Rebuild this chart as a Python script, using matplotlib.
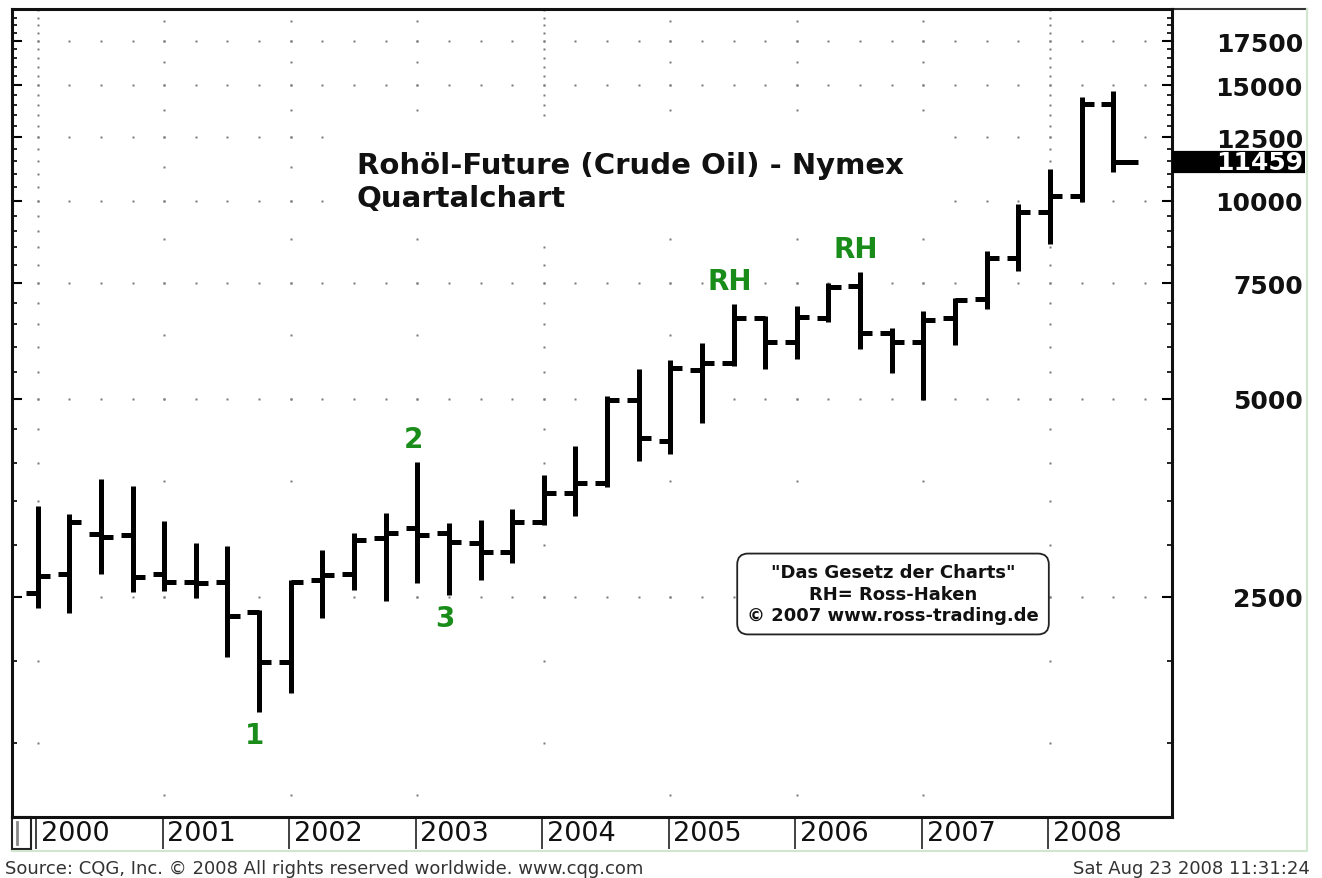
"""Quarterly OHLC bar chart of the Nymex crude oil future (CQG style, log scale)."""

import matplotlib
matplotlib.use("Agg")
import matplotlib.pyplot as plt
import numpy as np
from matplotlib.ticker import FixedLocator, NullFormatter

W, H = 1322, 879

# one bar per quarter, 2000Q1 .. 2008Q3 (prices in US cents per barrel)
quarters = [f"{y}Q{q}" for y in range(2000, 2009) for q in range(1, 5)][:35]
opens = [2536, 2710, 3117, 3109, 2710, 2632, 2632, 2375, 1990, 2650,
         2710, 3071, 3180, 3128, 3020, 2930, 3254, 3598, 3727, 4988,
         4321, 5540, 5672, 6632, 6104, 6632, 7418, 6300, 6111, 6632,
         7095, 8182, 9632, 10187, 14041]
highs = [3442, 3344, 3779, 3691, 3265, 3020, 2986, 2392, 2657, 2951,
         3128, 3355, 4007, 3239, 3277, 3403, 3832, 4237, 5048, 5553,
         5738, 6083, 6973, 6679, 6924, 7504, 7791, 6404, 6810, 7113,
         8393, 9894, 11183, 14374, 14709]
lows = [2403, 2364, 2710, 2547, 2556, 2491, 2025, 1673, 1787, 2322,
        2565, 2468, 2623, 2520, 2654, 2816, 3217, 3316, 3671, 4029,
        4124, 4597, 5607, 5553, 5746, 6540, 5956, 5476, 4988, 6040,
        6851, 7833, 8601, 9949, 11078]
closes = [2693, 3254, 3088, 2684, 2632, 2625, 2342, 1990, 2638, 2700,
          3056, 3128, 3107, 3034, 2930, 3254, 3598, 3727, 4988, 4358,
          5567, 5672, 6632, 6111, 6669, 7392, 6293, 6111, 6600, 7071,
          8182, 9632, 10187, 14041, 11459]
years = ["2000", "2001", "2002", "2003", "2004", "2005", "2006", "2007", "2008"]
price_labels = [2500, 5000, 7500, 10000, 12500, 15000, 17500]
last_price = 11459

# wave / Ross hook marks: (text, bar index, placed above the high or below the low)
marks = [("1", 7, "low"), ("2", 12, "high"), ("3", 13, "low"),
         ("RH", 22, "high"), ("RH", 26, "high")]

GREEN = "#1a8c1a"


def px_rect(x0, y0, x1, y1):
    return [x0 / W, 1 - y1 / H, (x1 - x0) / W, (y1 - y0) / H]


fig = plt.figure(figsize=(W / 100, H / 100), dpi=100)
fig.patch.set_facecolor("white")
ax = fig.add_axes(px_rect(12, 10, 1172, 818))
ax.set_yscale("log")
ax.set_xlim(-0.8125, 35.86)
ax.set_ylim(1157, 19580)

x = np.arange(len(quarters))
o = np.asarray(opens, float)
h = np.asarray(highs, float)
lo = np.asarray(lows, float)
c = np.asarray(closes, float)

# dotted grid: major price rows with a dot per quarter, year columns
qx = np.arange(36)
for lvl in price_labels:
    ax.plot(qx, np.full(qx.size, lvl), ls="none", marker="s", ms=1.5,
            mec="none", mfc="#7a7a7a", zorder=1)
year_idx = np.arange(0, 36, 4)
for k, yi in enumerate(year_idx):
    if k % 4 == 0:
        lv = np.arange(1500, 20000, 500)
    else:
        lv = np.arange(1250, 20000, 1250)
    ax.plot(np.full(lv.size, yi), lv, ls="none", marker="s", ms=1.5,
            mec="none", mfc="#7a7a7a", zorder=1)

# OHLC bars
bw = 3.6
ax.vlines(x, lo, h, colors="black", linewidth=bw, capstyle="butt", zorder=3)
ax.hlines(o, x - 0.37, x, colors="black", linewidth=bw, capstyle="butt", zorder=3)
close_len = np.full(x.size, 0.38)
close_len[-1] = 0.8
ax.hlines(c, x, x + close_len, colors="black", linewidth=bw, capstyle="butt", zorder=3)

# spines and ticks
for s in ax.spines.values():
    s.set_linewidth(2.2)
    s.set_color("#111111")
ax.set_xticks([])
ax.set_yticks(price_labels)
ax.set_yticklabels([str(v) for v in price_labels])
ax.yaxis.set_minor_locator(FixedLocator(np.arange(1500, 20000, 500)))
ax.yaxis.set_minor_formatter(NullFormatter())
ax.tick_params(axis="y", which="both", direction="in", left=True, right=True,
               labelleft=False, labelright=True)
ax.tick_params(axis="y", which="major", length=7, width=1.5, pad=94.3,
               labelsize=18)
ax.tick_params(axis="y", which="minor", length=3.5, width=1.2)
for t in ax.get_yticklabels():
    t.set_ha("right")
    t.set_fontweight("bold")
    t.set_color("#111111")

# current price marker on the right scale
ytr = ax.get_yaxis_transform()
ax.plot([1.0, 1.1147], [last_price, last_price], transform=ytr, color="black",
        lw=16, solid_capstyle="butt", clip_on=False, zorder=5)
ax.text(1.1129, last_price, str(last_price), transform=ytr, ha="right",
        va="center", color="white", fontsize=18, fontweight="bold",
        clip_on=False, zorder=6)

# year strip below the plot
xtr = ax.get_xaxis_transform()
strip = (850 - 818) / 808
ax.vlines(year_idx - 0.05, -strip, 0, transform=xtr, colors="#333333",
          linewidth=1.3, clip_on=False)
for yi, lab in zip(year_idx, years):
    ax.text(yi + 0.1, -strip / 2, lab, transform=xtr, ha="left", va="center",
            fontsize=19.5, color="#111111", clip_on=False)
# small scroll box at the lower left
ax.add_patch(plt.Rectangle((0, -strip), 19 / 1160, strip, transform=ax.transAxes,
                           fc="white", ec="#222222", lw=1.5, clip_on=False))
ax.plot([5 / 1160, 5 / 1160], [-strip * 0.85, -strip * 0.15], transform=ax.transAxes,
        color="#888888", lw=2, clip_on=False)

# light frame around the chart
right = (1307 - 12) / 1160
bottom = (818 - 852) / 808
ax.plot([1, right], [1, 1], transform=ax.transAxes, color="#333333", lw=1.5,
        clip_on=False)
ax.plot([right, right, 0], [1, bottom, bottom], transform=ax.transAxes,
        color="#cfe6cf", lw=1.5, clip_on=False)

# title
ax.text(0.2974, 0.7865, "Rohöl-Future (Crude Oil) - Nymex\nQuartalchart",
        transform=ax.transAxes, ha="left", va="center", fontsize=21,
        fontweight="bold", color="#111111", linespacing=1.2, zorder=4,
        bbox=dict(boxstyle="square,pad=0.9", fc="white", ec="none"))

# wave marks
for txt, i, where in marks:
    if where == "high":
        xy, dy = (x[i], h[i]), 16.5
    else:
        xy, dy = (x[i], lo[i]), -16.5
    ax.annotate(txt, xy=xy, xytext=(-3, dy), textcoords="offset points",
                ha="center", va="center", fontsize=20, fontweight="bold",
                color=GREEN, zorder=4)

# info box
ax.text(0.7595, 0.276,
        '"Das Gesetz der Charts"\nRH= Ross-Haken\n© 2007 www.ross-trading.de',
        transform=ax.transAxes, ha="center", va="center", multialignment="center",
        fontsize=13, fontweight="bold", color="#111111", linespacing=1.25, zorder=4,
        bbox=dict(boxstyle="round,pad=0.55,rounding_size=0.6", fc="white",
                  ec="#222222", lw=1.3))

# footer
fig.text(5 / W, 1 - 869 / H,
         "Source: CQG, Inc. © 2008 All rights reserved worldwide. www.cqg.com",
         ha="left", va="center", fontsize=13, color="#333333")
fig.text(1310 / W, 1 - 869 / H, "Sat Aug 23 2008 11:31:24", ha="right",
         va="center", fontsize=13, color="#333333")

fig.savefig("out.png", dpi=100)
